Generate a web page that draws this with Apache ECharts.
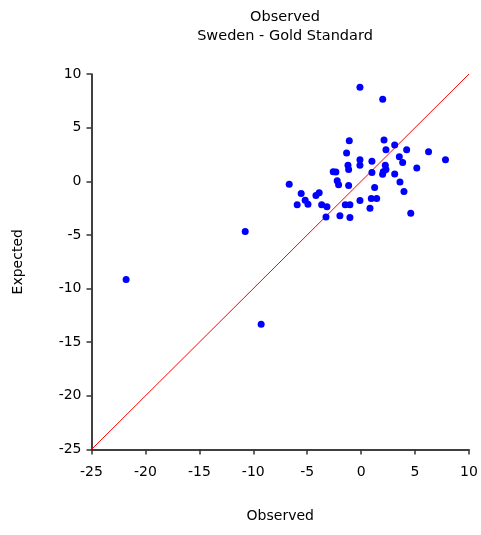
<!DOCTYPE html>
<html>
<head>
<meta charset="utf-8">
<script src="https://cdn.jsdelivr.net/npm/echarts@6/dist/echarts.min.js"></script>
<style>
  html, body { margin: 0; padding: 0; background: #ffffff; }
  #chart { width: 481px; height: 535px; }
</style>
</head>
<body>
<div id="chart"></div>
<script>
// Observed vs expected values (Sweden, Gold Standard period)
const observed = [
  -0.11, 2.00, -6.67, -5.56, -5.93, -5.19, -4.93, -4.19, -3.89, -3.66,
  -3.17, -3.26, -2.59, -2.34, -2.22, -2.09, -1.47, -1.04, -1.97, -1.04,
  -1.16, -1.10, -1.35, -1.22, -1.16, -0.11, -0.11, 1.00, -0.11, 1.00,
  1.25, 0.94, 1.44, 0.82, 2.12, 2.30, 2.24, 2.30, 2.05, 1.99,
  3.11, 3.54, 3.85, 3.11, 3.60, 3.97, 4.22, 4.60, 5.16, 6.25,
  7.82, -21.79, -10.75, -9.27
];
const expected = [
  8.77, 7.65, -0.28, -1.14, -2.19, -1.76, -2.13, -1.33, -1.08, -2.19,
  -2.38, -3.34, 0.90, 0.87, 0.04, -0.33, -2.19, -2.19, -3.21, -3.37,
  -0.40, 3.78, 2.64, 1.49, 1.11, 2.01, 1.49, 1.86, -1.79, 0.81,
  -0.58, -1.61, -1.61, -2.51, 3.84, 2.94, 1.49, 1.09, 0.90, 0.65,
  3.38, 2.29, 1.74, 0.69, -0.06, -0.96, 2.94, -2.97, 1.24, 2.76,
  2.01, -9.16, -4.67, -13.33
];
// Identity line end points (expected = observed)
const identityEnds = [-25, 10];

const titleLines = ['Observed', 'Sweden - Gold Standard'];
const xName = 'Observed';
const yName = 'Expected';

const points = observed.map((x, i) => [x, expected[i]]);
const identity = identityEnds.map(v => [v, v]);

const font = 'DejaVu Sans, Liberation Sans, Arial, sans-serif';
const chart = echarts.init(document.getElementById('chart'), null, { renderer: 'canvas' });

const axisCommon = {
  type: 'value',
  min: -25,
  max: 10,
  interval: 5,
  nameLocation: 'middle',
  nameTextStyle: { color: '#000', fontFamily: font, fontSize: 14 },
  splitLine: { show: false },
  axisLine: { show: true, onZero: false, lineStyle: { color: '#000', width: 1.5 } },
  axisTick: { show: true, inside: false, length: 5, lineStyle: { color: '#333', width: 1.5 } },
  axisLabel: { color: '#000', fontFamily: font, fontSize: 14, margin: 10 }
};

chart.setOption({
  animation: false,
  backgroundColor: '#ffffff',
  title: {
    text: titleLines.join('\n'),
    left: 280,
    top: 3,
    textAlign: 'center',
    textStyle: { color: '#000', fontFamily: font, fontSize: 14.5, fontWeight: 'normal', lineHeight: 19 }
  },
  grid: { left: 91.5, right: 12, top: 74, bottom: 85.5, containLabel: false },
  xAxis: Object.assign({}, axisCommon, {
    name: xName,
    nameGap: 60,
    axisLabel: Object.assign({}, axisCommon.axisLabel, { margin: 16 })
  }),
  yAxis: Object.assign({}, axisCommon, {
    name: yName,
    nameGap: 66
  }),
  series: [
    {
      type: 'line',
      data: identity,
      symbol: 'none',
      silent: true,
      lineStyle: { color: '#ff0000', width: 1 },
      z: 1
    },
    {
      type: 'scatter',
      data: points,
      symbol: 'circle',
      symbolSize: 7,
      itemStyle: { color: '#0000ff', opacity: 1 },
      z: 2
    }
  ]
});
</script>
</body>
</html>
